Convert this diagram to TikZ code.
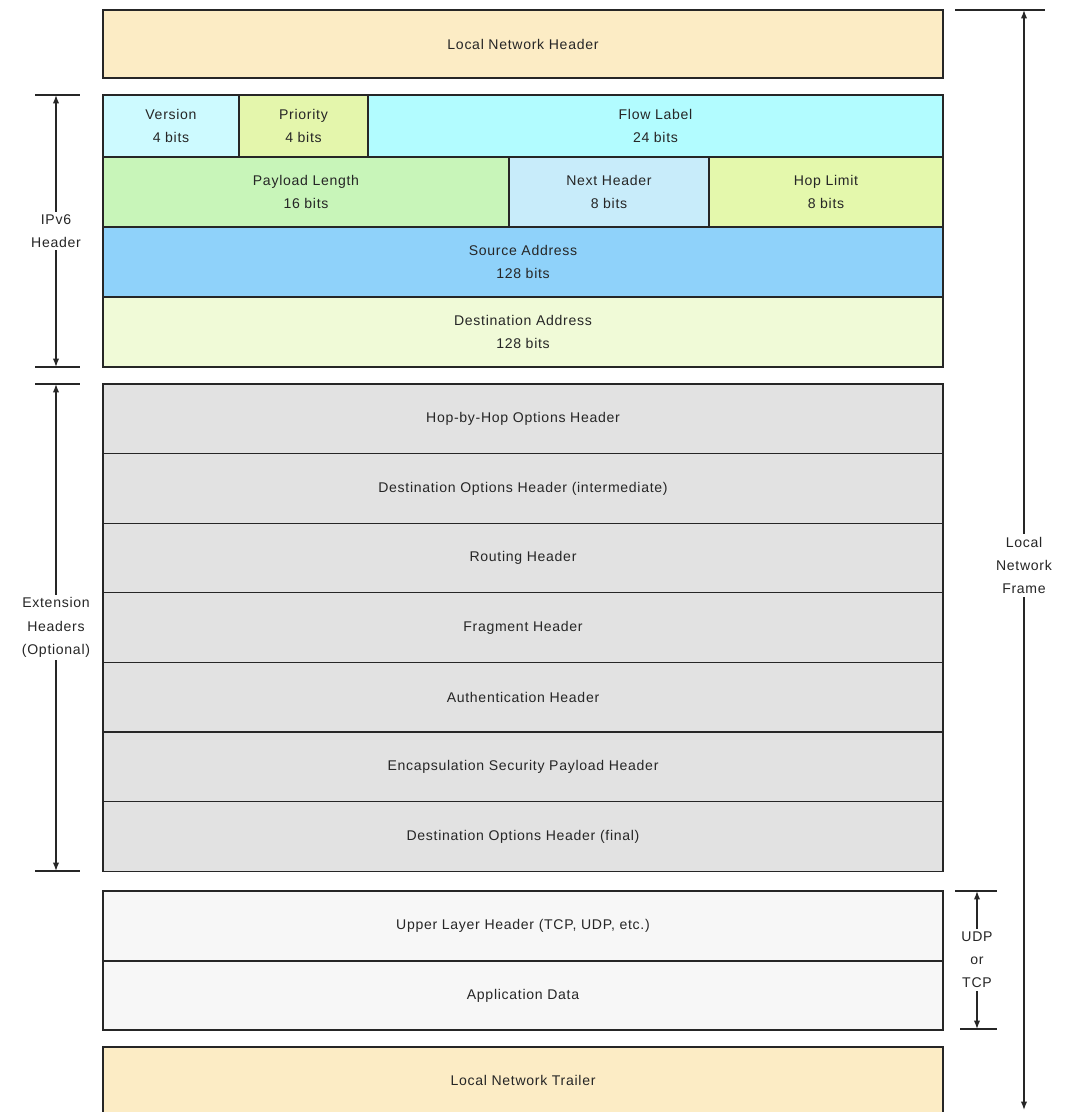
\documentclass[tikz,border=0pt]{standalone}
\usepackage{fontspec}
\setmainfont{Liberation Sans}[LetterSpace=5]
\usetikzlibrary{arrows.meta}

\definecolor{lnhdr}{RGB}{252,236,197}
\definecolor{vercol}{RGB}{205,250,255}
\definecolor{pricol}{RGB}{228,246,172}
\definecolor{flowcol}{RGB}{178,252,255}
\definecolor{plencol}{RGB}{200,245,185}
\definecolor{nxtcol}{RGB}{200,236,250}
\definecolor{hopcol}{RGB}{228,248,172}
\definecolor{srccol}{RGB}{143,210,250}
\definecolor{dstcol}{RGB}{240,250,215}
\definecolor{extcol}{RGB}{226,226,226}
\definecolor{ulcol}{RGB}{247,247,247}

\begin{document}
\begin{tikzpicture}[x=0.025cm, y=-0.025cm,
  >={Latex[length=6pt,width=4.5pt]}, font=\fontsize{10}{16.5}\selectfont,
  field/.style={draw=black!85, line width=0.9pt, inner sep=0pt, align=center, text=black!85},
  sz/.style 2 args={minimum width=#1*0.025cm, minimum height=#2*0.025cm},
  tick/.style={draw=black!85, line width=0.9pt},
  dim/.style={draw=black!85, line width=0.9pt, <->},
  dimlabel/.style={fill=white, inner sep=2pt, align=center, text=black!85},
]
\clip (0,0) rectangle (1067,1112);
\fill[white] (0,0) rectangle (1067,1112);

% ======================= Local network header =======================
\node[field, fill=lnhdr, sz={840}{68}] (lnh) at (523,44) {Local Network Header};

% ======================= IPv6 header ================================
\node[field, fill=vercol, sz={136}{62}] (ver) at (171,126) {Version\\4 bits};
\node[field, fill=pricol, sz={129}{62}] (pri) at (303.5,126) {Priority\\4 bits};
\node[field, fill=flowcol, sz={575}{62}] (flow) at (655.5,126) {Flow Label\\24 bits};
\node[field, fill=plencol, sz={406}{70}] (plen) at (306,192) {Payload Length\\16 bits};
\node[field, fill=nxtcol, sz={200}{70}] (nxt) at (609,192) {Next Header\\8 bits};
\node[field, fill=hopcol, sz={234}{70}] (hop) at (826,192) {Hop Limit\\8 bits};
\node[field, fill=srccol, sz={840}{70}] (src) at (523,262) {Source Address\\128 bits};
\node[field, fill=dstcol, sz={840}{70}] (dst) at (523,332) {Destination Address\\128 bits};

% ======================= Extension headers ==========================
\foreach \lbl [count=\i] in {Hop-by-Hop Options Header,
    Destination Options Header (intermediate), Routing Header,
    Fragment Header, Authentication Header,
    Encapsulation Security Payload Header,
    Destination Options Header (final)}
  \node[field, fill=extcol, sz={840}{69.6}] (ext\i) at (523,{384+69.6*(\i-0.5)}) {\lbl};

% ======================= Upper layer ================================
\node[field, fill=ulcol, sz={840}{70}] (upl) at (523,926) {Upper Layer Header (TCP, UDP, etc.)};
\node[field, fill=ulcol, sz={840}{69}] (app) at (523,995.5) {Application Data};

% ======================= Local network trailer ======================
\node[field, fill=lnhdr, sz={840}{83}] (trl) at (523,1088.5) {};
\node[text=black!85] (trltxt) at (523,1080) {Local Network Trailer};

% ======================= Dimension marks ============================
\coordinate (ipt) at (56,95);
\coordinate (ipb) at (56,367);
\coordinate (ext) at (56,384);
\coordinate (exb) at (56,871);
\coordinate (frt) at (1024,10);
\coordinate (frb) at (1024,1110);
\coordinate (ult) at (977,891);
\coordinate (ulb) at (977,1029);

\draw[tick] (35,95) -- (80,95);
\draw[tick] (35,367) -- (80,367);
\draw[tick] (35,384) -- (80,384);
\draw[tick] (35,871) -- (80,871);
\draw[tick] (955,10) -- (1045,10);
\draw[tick] (955,891) -- (997,891);
\draw[tick] (960,1029) -- (997,1029);

\draw[dim] (ipt) -- node[dimlabel] (iplbl) {IPv6\\Header} (ipb);
\draw[dim] (ext) -- node[dimlabel] (exlbl) {Extension\\Headers\\(Optional)} (exb);
\draw[dim] (frt) -- node[dimlabel, pos=0.505] (frlbl) {Local\\Network\\Frame} (frb);
\draw[dim] (ult) -- node[dimlabel] (ullbl) {UDP\\or\\TCP} (ulb);

\end{tikzpicture}
\end{document}
